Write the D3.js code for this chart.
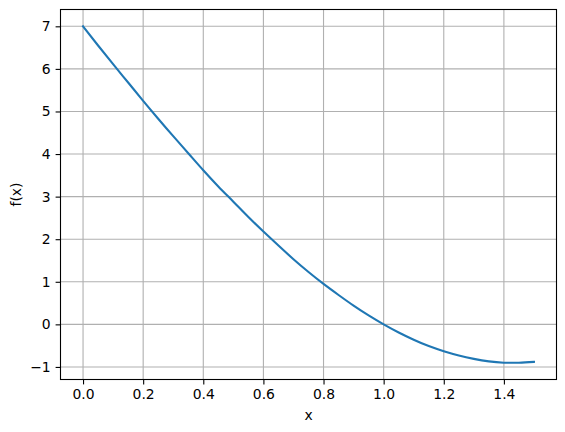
<!DOCTYPE html>
<html>
<head>
<meta charset="utf-8">
<script src="https://cdn.jsdelivr.net/npm/d3@7"></script>
<style>
  body { margin: 0; background: #fff; }
  svg { display: block; font-family: "DejaVu Sans", sans-serif; }
</style>
</head>
<body>
<svg id="chart" width="565" height="432"></svg>
<script>
// values
const xs = [0, 0.05, 0.1, 0.15, 0.2, 0.25, 0.3, 0.35, 0.4, 0.45, 0.5,
  0.55, 0.6, 0.65, 0.7, 0.75, 0.8, 0.85, 0.9, 0.95, 1.0,
  1.05, 1.1, 1.15, 1.2, 1.25, 1.3, 1.35, 1.4, 1.45, 1.5];
const ys = [7, 6.55, 6.11, 5.68, 5.25, 4.83, 4.42, 4.02, 3.62, 3.24, 2.88,
  2.52, 2.18, 1.85, 1.53, 1.23, 0.95, 0.69, 0.44, 0.21, 0,
  -0.19, -0.36, -0.51, -0.63, -0.73, -0.81, -0.87, -0.9, -0.9, -0.88];
const xTicks = [0, 0.2, 0.4, 0.6, 0.8, 1.0, 1.2, 1.4];
const yTicks = [-1, 0, 1, 2, 3, 4, 5, 6, 7];

const margin = { left: 60.5, top: 9.5 },
  width = 496,
  height = 370;

const svg = d3.select("#chart");
const g = svg.append("g").attr("transform", `translate(${margin.left},${margin.top})`);

// matplotlib style 5% padding
const xPad = (d3.max(xs) - d3.min(xs)) * 0.05;
const yPad = (d3.max(ys) - d3.min(ys)) * 0.05;
const x = d3.scaleLinear().domain([d3.min(xs) - xPad, d3.max(xs) + xPad]).range([0, width]);
const y = d3.scaleLinear().domain([d3.min(ys) - yPad, d3.max(ys) + yPad]).range([height, 0]);

// grid
g.append("g")
  .selectAll("line")
  .data(xTicks)
  .join("line")
  .attr("x1", (d) => x(d))
  .attr("x2", (d) => x(d))
  .attr("y1", 0)
  .attr("y2", height)
  .attr("stroke", "#b0b0b0")
  .attr("stroke-width", 1.1);

g.append("g")
  .selectAll("line")
  .data(yTicks)
  .join("line")
  .attr("x1", 0)
  .attr("x2", width)
  .attr("y1", (d) => y(d))
  .attr("y2", (d) => y(d))
  .attr("stroke", "#b0b0b0")
  .attr("stroke-width", 1.1);

// curve
const line = d3
  .line()
  .x((d) => x(d[0]))
  .y((d) => y(d[1]))
  .curve(d3.curveNatural);

g.append("path")
  .datum(d3.zip(xs, ys))
  .attr("d", line)
  .attr("fill", "none")
  .attr("stroke", "#1f77b4")
  .attr("stroke-width", 2.1)
  .attr("stroke-linecap", "square");

// axes
const fmtX = (d) => d.toFixed(1);
const fmtY = (d) => (d < 0 ? "\u2212" + Math.abs(d) : String(d));

const xAxis = g
  .append("g")
  .attr("transform", `translate(0,${height})`)
  .call(d3.axisBottom(x).tickValues(xTicks).tickFormat(fmtX).tickSize(4.9).tickPadding(4.9));

const yAxis = g
  .append("g")
  .call(d3.axisLeft(y).tickValues(yTicks).tickFormat(fmtY).tickSize(4.9).tickPadding(4.9));

[xAxis, yAxis].forEach((a) => {
  a.select(".domain").remove();
  a.selectAll(".tick line").attr("stroke", "#000").attr("stroke-width", 1.1);
  a.selectAll(".tick text")
    .attr("fill", "#000")
    .style("font-size", "13.9px")
    .style("font-family", "'DejaVu Sans', sans-serif");
});

// frame
g.append("rect")
  .attr("width", width)
  .attr("height", height)
  .attr("fill", "none")
  .attr("stroke", "#000")
  .attr("stroke-width", 1.1);

// labels
svg.append("text")
  .attr("x", margin.left + width / 2)
  .attr("y", 420)
  .attr("text-anchor", "middle")
  .style("font-size", "13.9px")
  .text("x");

svg.append("text")
  .attr("transform", `translate(21,${margin.top + height / 2}) rotate(-90)`)
  .attr("text-anchor", "middle")
  .style("font-size", "13.9px")
  .text("f(x)");
</script>
</body>
</html>
